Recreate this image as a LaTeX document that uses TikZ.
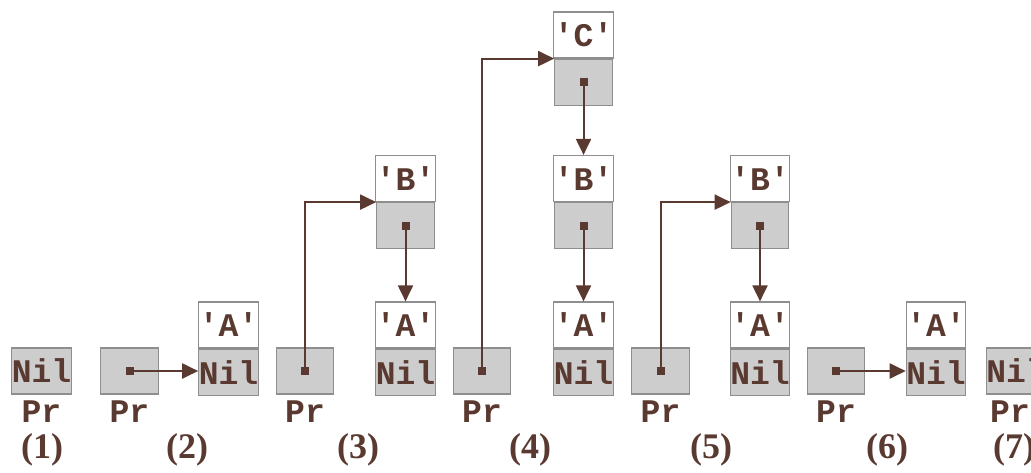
\documentclass[tikz,border=0pt]{standalone}
\usepackage{fontspec}
\setmonofont{Liberation Mono}
\newfontfamily\stagefont{Liberation Serif}
\usepackage{xcolor}
\usetikzlibrary{positioning,arrows.meta}
\definecolor{ink}{HTML}{5A3A30}
\definecolor{cellgray}{HTML}{CDCDCD}
\definecolor{cellline}{HTML}{8E8E8E}
\newcommand{\cellfont}{\ttfamily\bfseries\fontsize{16.5}{16.5}\selectfont}
\newcommand{\stagelbl}{\stagefont\bfseries\fontsize{18}{18}\selectfont}

\begin{document}
\begin{tikzpicture}[x=0.5pt,y=-0.5pt,
  cell/.style={draw=cellline,line width=0.6pt,minimum width=28.75pt,minimum height=23pt,
    inner sep=0pt,font=\cellfont,text=ink},
  datacell/.style={cell,fill=white},
  linkcell/.style={cell,fill=cellgray},
  link/.style={-{Triangle[length=8pt,width=7.5pt]},line width=1pt,draw=ink},
  dot/.style={fill=ink,minimum size=4pt,inner sep=0pt},
  varname/.style={font=\cellfont,text=ink,anchor=base},
  stage/.style={font=\stagelbl,text=ink,anchor=base}]
\useasboundingbox (0,0) rectangle (1031,472);
\clip (0,0) rectangle (1031,472);

% (1)
\node[linkcell] (n1) at (41.5,371) {Nil};
\node[varname] (v1) at (41.5,422) {Pr};
\node[stage] (s1) at (42,458) {(1)};

% (2)
\node[linkcell] (p2) at (129.5,371) {};
\node[datacell] (a2t) at (228.5,325) {'A'};
\node[linkcell,below=0pt of a2t] (a2b) {Nil};
\node[dot] (d2) at (p2.center) {};
\draw[link] (p2.center) -- (p2.center -| a2b.west);
\node[varname] (v2) at (129.5,422) {Pr};
\node[stage] (s2) at (187,458) {(2)};

% (3)
\node[linkcell] (p3) at (305,371) {};
\node[datacell] (b3t) at (405.5,178.5) {'B'};
\node[linkcell,below=0pt of b3t] (b3b) {};
\node[datacell] (a3t) at (405.5,325) {'A'};
\node[linkcell,below=0pt of a3t] (a3b) {Nil};
\node[dot] (d3) at (p3.center) {};
\node[dot] (e3) at (b3b.center) {};
\draw[link] (p3.center) |- (b3b.north west);
\draw[link] (b3b.center) -- (a3t.north);
\node[varname] (v3) at (305,422) {Pr};
\node[stage] (s3) at (358,458) {(3)};

% (4)
\node[linkcell] (p4) at (482,371) {};
\node[datacell] (c4t) at (583.5,35) {'C'};
\node[linkcell,below=0pt of c4t] (c4b) {};
\node[datacell] (b4t) at (583.5,178.5) {'B'};
\node[linkcell,below=0pt of b4t] (b4b) {};
\node[datacell] (a4t) at (583.5,325) {'A'};
\node[linkcell,below=0pt of a4t] (a4b) {Nil};
\node[dot] (d4) at (p4.center) {};
\node[dot] (e4) at (c4b.center) {};
\node[dot] (f4) at (b4b.center) {};
\draw[link] (p4.center) |- (c4b.north west);
\draw[link] (c4b.center) -- (b4t.north);
\draw[link] (b4b.center) -- (a4t.north);
\node[varname] (v4) at (482,422) {Pr};
\node[stage] (s4) at (530,458) {(4)};

% (5)
\node[linkcell] (p5) at (660.5,371) {};
\node[datacell] (b5t) at (760,178.5) {'B'};
\node[linkcell,below=0pt of b5t] (b5b) {};
\node[datacell] (a5t) at (760,325) {'A'};
\node[linkcell,below=0pt of a5t] (a5b) {Nil};
\node[dot] (d5) at (p5.center) {};
\node[dot] (e5) at (b5b.center) {};
\draw[link] (p5.center) |- (b5b.north west);
\draw[link] (b5b.center) -- (a5t.north);
\node[varname] (v5) at (660.5,422) {Pr};
\node[stage] (s5) at (711,458) {(5)};

% (6)
\node[linkcell] (p6) at (836,371) {};
\node[datacell] (a6t) at (936,325) {'A'};
\node[linkcell,below=0pt of a6t] (a6b) {Nil};
\node[dot] (d6) at (p6.center) {};
\draw[link] (p6.center) -- (p6.center -| a6b.west);
\node[varname] (v6) at (836,422) {Pr};
\node[stage] (s6) at (887,458) {(6)};

% (7)
\node[linkcell] (n7) at (1016,371) {Nil};
\node[varname] (v7) at (1010,422) {Pr};
\node[stage] (s7) at (1014,458) {(7)};
\end{tikzpicture}
\end{document}
